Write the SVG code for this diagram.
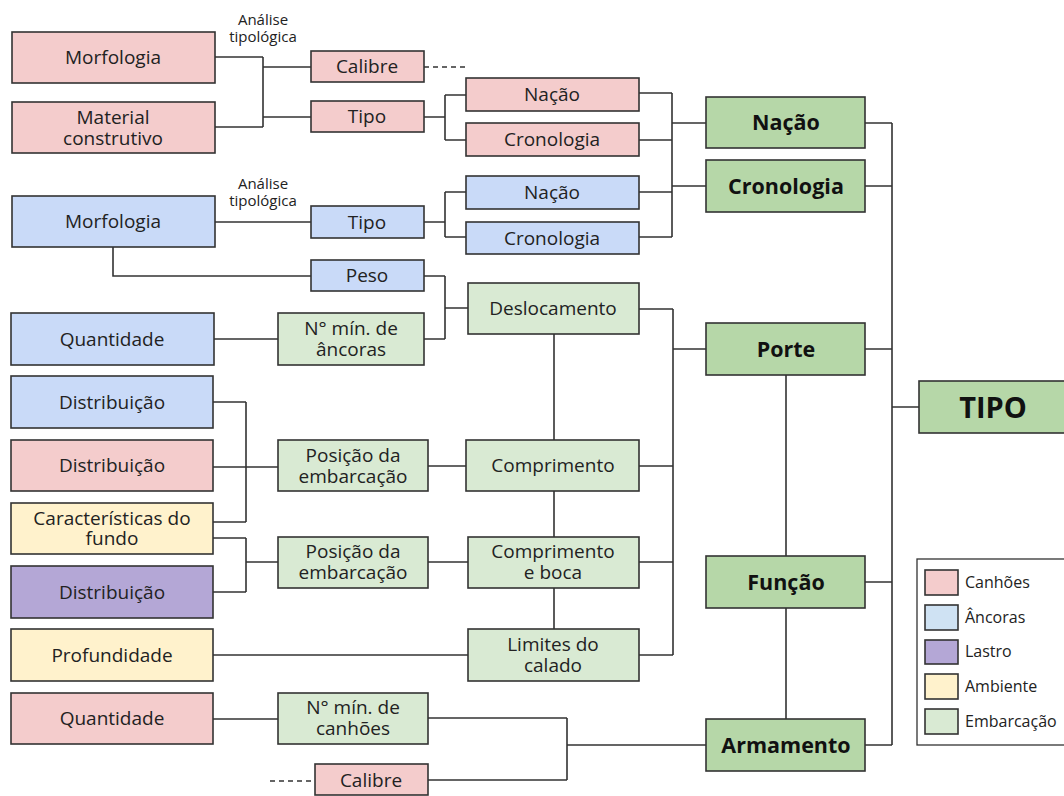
<svg xmlns="http://www.w3.org/2000/svg" width="1064" height="796" viewBox="0 0 1064 796">
<style>
  rect{stroke:#333;stroke-width:1.6}
  .pk{fill:#f4cccc}.bl{fill:#c9daf8}.pu{fill:#b4a7d6}.ye{fill:#fff2cc}.lg{fill:#d9ead3}.dg{fill:#b6d7a8}
  text{font-family:"Open Sans","Noto Sans","Liberation Sans",sans-serif;fill:#222;text-anchor:middle}
  .t{font-size:19px}
  .b{font-size:21.5px;font-weight:bold;fill:#111}
  .s{font-size:15px}
  .lgd{font-size:16px;text-anchor:start}
  #connectors path{fill:none;stroke:#333;stroke-width:1.6}
  #connectors .d{stroke-dasharray:5 4}
</style>
<rect x="0" y="0" width="1064" height="796" fill="#fff" style="stroke:none"/>
<g id="connectors">
  <path d="M215 57H263M215 127H263M263 57V127M263 67H311M263 117H311"/>
  <path class="d" d="M424 67H468"/>
  <path d="M424 117H445M445 95V140M445 95H466M445 140H466"/>
  <path d="M639 93H672M639 140H672M639 192H672M639 237H672M672 93V237M672 123H706M672 186H706"/>
  <path d="M865 123H892M865 186H892M892 123V745M892 407H919M865 349H892M865 582H892M865 745H892"/>
  <path d="M214 222H311M424 222H445M445 192V237M445 192H466M445 237H466"/>
  <path d="M113 247V276H311M424 276H445M445 276V339M424 339H445M445 308H468M214 339H278"/>
  <path d="M554 334V440M554 491V537M554 588V629"/>
  <path d="M639 309H673M639 466H673M639 562H673M639 655H673M673 309V655M673 349H706"/>
  <path d="M786 375V556M786 608V719"/>
  <path d="M213 402H246M213 522H246M246 402V522M213 467H278M428 466H466"/>
  <path d="M213 538H246M213 592H246M246 538V592M246 562H278M428 562H468"/>
  <path d="M213 655H468"/>
  <path d="M213 719H278M428 718H567M428 780H567M567 718V780M567 745H706"/>
  <path class="d" d="M270 781H315"/>
</g>
<text class="s" x="263" y="25">Análise<tspan x="263" dy="17">tipológica</tspan></text>
<text class="s" x="263" y="189">Análise<tspan x="263" dy="17">tipológica</tspan></text>

<g id="n-morf-c"><rect class="pk" x="12" y="32" width="203" height="51"/><text class="t" x="113" y="64">Morfologia</text></g>
<g id="n-mat-c"><rect class="pk" x="12" y="102" width="203" height="51"/><text class="t" x="113" y="124">Material<tspan x="113" dy="21">construtivo</tspan></text></g>
<g id="n-cal-c"><rect class="pk" x="311" y="51" width="113" height="31"/><text class="t" x="367" y="73">Calibre</text></g>
<g id="n-tipo-c"><rect class="pk" x="311" y="101" width="113" height="31"/><text class="t" x="367" y="123">Tipo</text></g>
<g id="n-nac-c"><rect class="pk" x="466" y="78" width="173" height="33"/><text class="t" x="552" y="101">Nação</text></g>
<g id="n-cro-c"><rect class="pk" x="466" y="123" width="173" height="33"/><text class="t" x="552" y="146">Cronologia</text></g>

<g id="n-morf-a"><rect class="bl" x="12" y="196" width="203" height="51"/><text class="t" x="113" y="228">Morfologia</text></g>
<g id="n-tipo-a"><rect class="bl" x="311" y="206" width="113" height="32"/><text class="t" x="367" y="229">Tipo</text></g>
<g id="n-nac-a"><rect class="bl" x="466" y="176" width="173" height="33"/><text class="t" x="552" y="199">Nação</text></g>
<g id="n-cro-a"><rect class="bl" x="466" y="222" width="173" height="32"/><text class="t" x="552" y="245">Cronologia</text></g>
<g id="n-peso"><rect class="bl" x="311" y="260" width="113" height="31"/><text class="t" x="367" y="282">Peso</text></g>
<g id="n-qtd-a"><rect class="bl" x="11" y="313" width="203" height="52"/><text class="t" x="112" y="346">Quantidade</text></g>
<g id="n-min-a"><rect class="lg" x="278" y="313" width="146" height="52"/><text class="t" x="351" y="335">N° mín. de<tspan x="351" dy="21">âncoras</tspan></text></g>

<g id="n-desl"><rect class="lg" x="468" y="283" width="171" height="51"/><text class="t" x="553" y="315">Deslocamento</text></g>
<g id="n-comp"><rect class="lg" x="466" y="440" width="173" height="51"/><text class="t" x="553" y="472">Comprimento</text></g>
<g id="n-compb"><rect class="lg" x="468" y="537" width="171" height="51"/><text class="t" x="553" y="558">Comprimento<tspan x="553" dy="21">e boca</tspan></text></g>
<g id="n-lim"><rect class="lg" x="468" y="629" width="171" height="52"/><text class="t" x="553" y="651">Limites do<tspan x="553" dy="21">calado</tspan></text></g>

<g id="n-dist-a"><rect class="bl" x="11" y="376" width="202" height="52"/><text class="t" x="112" y="409">Distribuição</text></g>
<g id="n-dist-c"><rect class="pk" x="11" y="440" width="202" height="51"/><text class="t" x="112" y="472">Distribuição</text></g>
<g id="n-fundo"><rect class="ye" x="11" y="503" width="202" height="51"/><text class="t" x="112" y="525">Características do<tspan x="112" dy="20">fundo</tspan></text></g>
<g id="n-dist-l"><rect class="pu" x="11" y="566" width="202" height="52"/><text class="t" x="112" y="599">Distribuição</text></g>
<g id="n-pos1"><rect class="lg" x="278" y="440" width="150" height="51"/><text class="t" x="353" y="462">Posição da<tspan x="353" dy="21">embarcação</tspan></text></g>
<g id="n-pos2"><rect class="lg" x="278" y="537" width="150" height="51"/><text class="t" x="353" y="558">Posição da<tspan x="353" dy="21">embarcação</tspan></text></g>
<g id="n-prof"><rect class="ye" x="11" y="629" width="202" height="52"/><text class="t" x="112" y="662">Profundidade</text></g>
<g id="n-qtd-c"><rect class="pk" x="11" y="693" width="202" height="51"/><text class="t" x="112" y="725">Quantidade</text></g>
<g id="n-min-c"><rect class="lg" x="278" y="693" width="150" height="51"/><text class="t" x="353" y="714">N° mín. de<tspan x="353" dy="21">canhões</tspan></text></g>
<g id="n-cal2"><rect class="pk" x="315" y="764" width="113" height="31"/><text class="t" x="371" y="787">Calibre</text></g>

<g id="n-nacao"><rect class="dg" x="706" y="97" width="159" height="51"/><text class="b" x="786" y="130">Nação</text></g>
<g id="n-crono"><rect class="dg" x="706" y="160" width="159" height="52"/><text class="b" x="786" y="194">Cronologia</text></g>
<g id="n-porte"><rect class="dg" x="706" y="323" width="159" height="52"/><text class="b" x="786" y="357">Porte</text></g>
<g id="n-funcao"><rect class="dg" x="706" y="556" width="159" height="52"/><text class="b" x="786" y="590">Função</text></g>
<g id="n-arm"><rect class="dg" x="706" y="719" width="159" height="52"/><text class="b" x="786" y="753">Armamento</text></g>
<g id="n-tipo"><rect class="dg" x="919" y="381" width="160" height="52"/><text x="993" y="418" style="font-size:29px;font-weight:bold;fill:#111">TIPO</text></g>

<g id="legend">
  <rect x="917" y="559" width="160" height="186" fill="#fff" style="stroke-width:1.3"/>
  <rect class="pk" x="925" y="570" width="33" height="25"/><text class="lgd" x="965" y="588">Canhões</text>
  <rect x="925" y="605" width="33" height="25" fill="#cfe2f3"/><text class="lgd" x="965" y="623">Âncoras</text>
  <rect class="pu" x="925" y="640" width="33" height="24"/><text class="lgd" x="965" y="657">Lastro</text>
  <rect class="ye" x="925" y="674" width="33" height="25"/><text class="lgd" x="965" y="692">Ambiente</text>
  <rect class="lg" x="925" y="709" width="33" height="25"/><text class="lgd" x="965" y="727">Embarcação</text>
</g>
</svg>
